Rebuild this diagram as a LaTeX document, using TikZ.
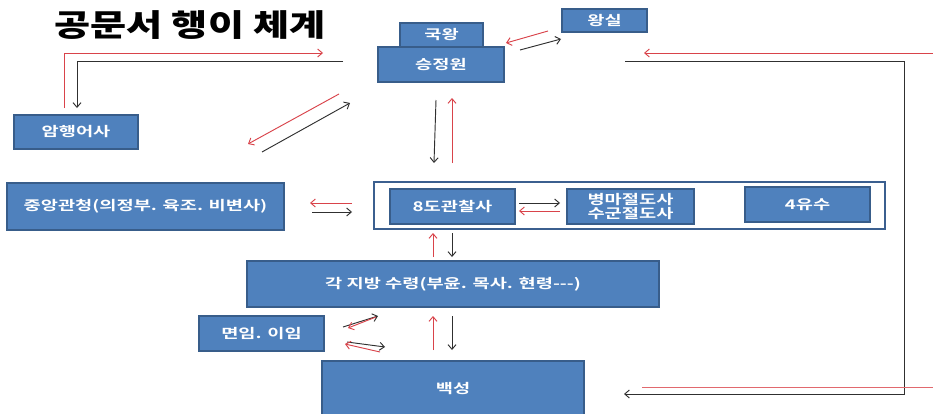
\documentclass[tikz,border=0pt]{standalone}
\usepackage{fontspec}
\setmainfont{Noto Sans CJK KR}
\newfontfamily\krbox{Noto Sans CJK KR Bold}[FakeStretch=1.4]
\newfontfamily\krtitle{Noto Sans CJK KR Black}[FakeStretch=1.28]
\usetikzlibrary{arrows.meta}
\definecolor{boxfill}{HTML}{4F81BD}
\definecolor{boxline}{HTML}{385D8A}
\definecolor{framecol}{HTML}{3B5F8F}
\definecolor{arrred}{HTML}{D9434A}
\definecolor{arrblk}{HTML}{303030}
\begin{document}
\begin{tikzpicture}[x=0.75pt,y=-0.75pt,
  box/.style={draw=boxline, line width=1.1pt, fill=boxfill, text=white, inner sep=0pt,
    font=\krbox\fontsize{10}{8.6}\selectfont, align=center},
  frame/.style={draw=framecol, line width=1.4pt, fill=white, inner sep=0pt},
  ra/.style={draw=arrred, line width=0.7pt, -{Straight Barb[length=3.5pt,width=6pt]}},
  ba/.style={draw=arrblk, line width=0.7pt, -{Straight Barb[length=3.5pt,width=6pt]}},
  rl/.style={draw=arrred!80, line width=0.7pt},
  bl/.style={draw=arrblk, line width=0.7pt}]
\clip (0,0) rectangle (933,414);
\fill[white] (0,0) rectangle (933,414);

% title
\node[font=\krtitle\fontsize{23}{26}\selectfont] (title) at (190,25) {공문서 행이 체계};

% boxes
\node[box, minimum width=62.25pt, minimum height=18pt] (king) at (441.5,35) {국왕};
\node[box, minimum width=94.5pt, minimum height=26.25pt] (sjw) at (441,64.5) {승정원};
\node[box, minimum width=63.75pt, minimum height=17.25pt] (royal) at (604.5,20.5) {왕실};
\node[box, minimum width=93pt, minimum height=25.5pt] (amh) at (76,132) {암행어사};
\node[box, minimum width=207.75pt, minimum height=35.25pt] (central) at (145.5,206.5) {중앙관청(의정부. 육조. 비변사)};
\node[frame, minimum width=383.25pt, minimum height=35.25pt] (frm) at (629.5,205.5) {};
\node[box, minimum width=93.75pt, minimum height=26.25pt] (gov) at (452.5,206.5) {8도관찰사};
\node[box, minimum width=95.25pt, minimum height=26.25pt] (mil) at (630.5,206.5) {병마절도사\\수군절도사};
\node[box, minimum width=93.75pt, minimum height=26.25pt] (yusu) at (807.5,204.5) {4유수};
\node[box, minimum width=309pt, minimum height=34.5pt] (local) at (453,284) {각 지방 수령(부윤. 목사. 현령---)};
\node[box, minimum width=93.75pt, minimum height=26.25pt] (myeon) at (261.5,333.5) {면임. 이임};
\node[box, minimum width=196.5pt, minimum height=41pt] (people) at (453,388.5) {백성};

% coordinates for connector ends
\coordinate (r1s) at (548,31);  \coordinate (r1e) at (506,43);
\coordinate (b1s) at (520,50);  \coordinate (b1e) at (561,39);
\coordinate (r2s) at (933,53);  \coordinate (r2e) at (644,53);
\coordinate (b2s) at (625,61);  \coordinate (b2a) at (904,61);
\coordinate (b2b) at (904,394); \coordinate (b2e) at (624,394);
\coordinate (r3s) at (933,387); \coordinate (r3e) at (642,387);
\coordinate (r4s) at (64,108);  \coordinate (r4a) at (64,53);  \coordinate (r4e) at (323,53);
\coordinate (b4s) at (343,61);  \coordinate (b4a) at (77,61);  \coordinate (b4e) at (77,108);
\coordinate (r5s) at (339,94);  \coordinate (r5e) at (248,144);
\coordinate (b5s) at (262,152); \coordinate (b5e) at (350,103);
\coordinate (b6s) at (436,100); \coordinate (b6e) at (434,163);
\coordinate (r6s) at (452,163); \coordinate (r6e) at (452,98);
\coordinate (r7s) at (352,203); \coordinate (r7e) at (310,203);
\coordinate (b7s) at (312,212); \coordinate (b7e) at (352,212);
\coordinate (b8s) at (519,203); \coordinate (b8e) at (560,203);
\coordinate (r8s) at (560,211); \coordinate (r8e) at (519,211);
\coordinate (r9s) at (433,257); \coordinate (r9e) at (433,233);
\coordinate (b9s) at (452,233); \coordinate (b9e) at (452,257);
\coordinate (r10s) at (433,350); \coordinate (r10e) at (433,316);
\coordinate (b10s) at (452,316); \coordinate (b10e) at (452,350);
\coordinate (b11s) at (343,327); \coordinate (b11e) at (378,316);
\coordinate (r11s) at (376,317); \coordinate (r11e) at (348,328);
\coordinate (b12s) at (347,342); \coordinate (b12e) at (385,347);
\coordinate (r12s) at (380,352); \coordinate (r12e) at (345,344);

% connectors
\draw[ra] (r1s) -- (r1e);
\draw[ba] (b1s) -- (b1e);
\draw[ra] (r2s) -- (r2e);
\draw[ba] (b2s) -- (b2a) -- (b2b) -- (b2e);
\draw[rl] (r3s) -- (r3e);
\draw[ra] (r4s) -- (r4a) -- (r4e);
\draw[ba] (b4s) -- (b4a) -- (b4e);
\draw[ra] (r5s) -- (r5e);
\draw[ba] (b5s) -- (b5e);
\draw[ba] (b6s) -- (b6e);
\draw[ra] (r6s) -- (r6e);
\draw[ra] (r7s) -- (r7e);
\draw[ba] (b7s) -- (b7e);
\draw[ba] (b8s) -- (b8e);
\draw[ra] (r8s) -- (r8e);
\draw[ra] (r9s) -- (r9e);
\draw[ba] (b9s) -- (b9e);
\draw[ra] (r10s) -- (r10e);
\draw[ba] (b10s) -- (b10e);
\draw[ba] (b11s) -- (b11e);
\draw[ra] (r11s) -- (r11e);
\draw[ba] (b12s) -- (b12e);
\draw[ra] (r12s) -- (r12e);
\end{tikzpicture}
\end{document}
